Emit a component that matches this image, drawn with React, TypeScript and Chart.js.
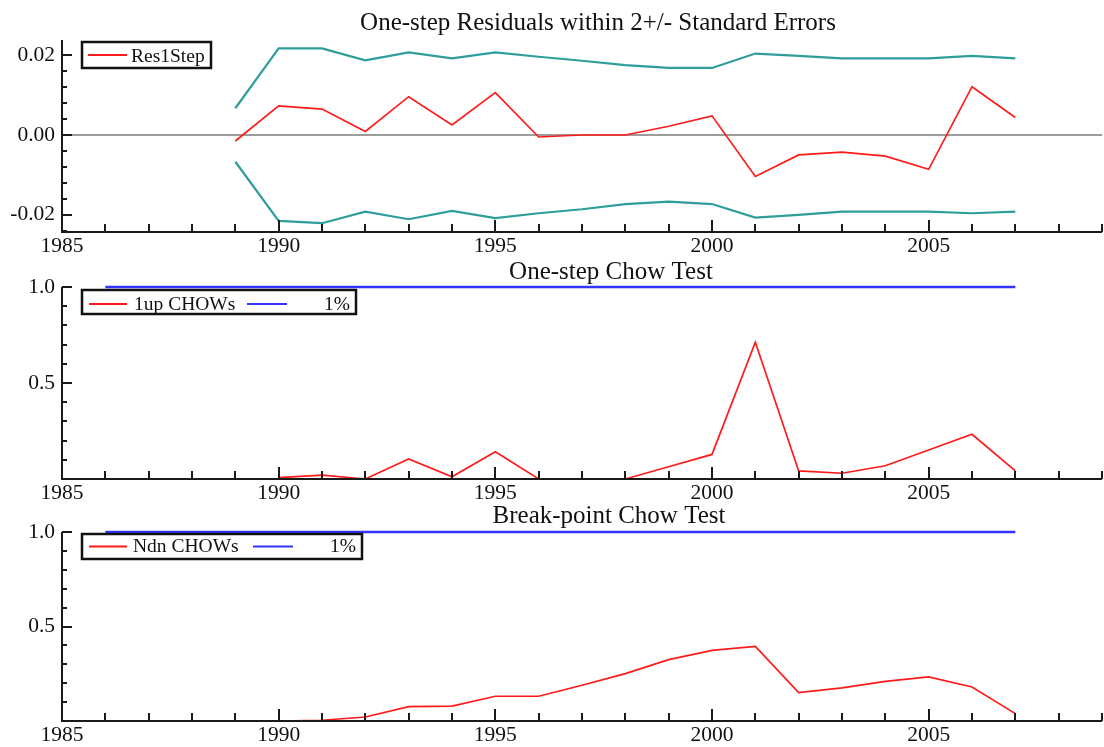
import React, { useEffect, useRef } from 'react';
import { Chart, registerables } from 'chart.js';

Chart.register(...registerables);

// ---------- data ----------
const resYears = [1989, 1990, 1991, 1992, 1993, 1994, 1995, 1996, 1997, 1998, 1999, 2000, 2001, 2002, 2003, 2004, 2005, 2006, 2007];
const res1Step = [-0.0015, 0.0073, 0.0065, 0.0009, 0.0096, 0.0025, 0.0106, -0.0005, 0.0, 0.0, 0.0022, 0.0048, -0.0104, -0.005, -0.0043, -0.0053, -0.0086, 0.0121, 0.0044];
const upperSE = [0.0067, 0.0217, 0.0217, 0.0187, 0.0207, 0.0192, 0.0207, 0.0196, 0.0186, 0.0175, 0.0168, 0.0168, 0.0204, 0.0198, 0.0192, 0.0192, 0.0192, 0.0198, 0.0192];
const lowerSE = [-0.0067, -0.0215, -0.0221, -0.0192, -0.0211, -0.019, -0.0208, -0.0196, -0.0186, -0.0173, -0.0167, -0.0173, -0.0207, -0.02, -0.0192, -0.0192, -0.0192, -0.0196, -0.0192];

const chowYears = [1990, 1991, 1992, 1993, 1994, 1995, 1996, 1997, 1998, 1999, 2000, 2001, 2002, 2003, 2004, 2005, 2006, 2007];
const oneUpChow = [0.007, 0.02, 0.0, 0.104, 0.012, 0.142, 0.0, 0.0, 0.0, 0.064, 0.128, 0.712, 0.042, 0.03, 0.069, 0.151, 0.233, 0.042];
const ndnChow = [0.0, 0.004, 0.021, 0.076, 0.079, 0.131, 0.131, 0.189, 0.251, 0.325, 0.374, 0.395, 0.15, 0.175, 0.21, 0.233, 0.18, 0.039];

const criticalYears = [1986, 2007];
const critical1pct = [1.0, 1.0];

const xTickYears = [1985, 1990, 1995, 2000, 2005];
const resTicks = [-0.02, 0.0, 0.02];
const chowTicks = [0.5, 1.0];

// ---------- styling ----------
const FONT = "'Liberation Serif', 'Times New Roman', serif";
const RED = '#ff1a1a';
const TEAL = '#2e9e9a';
const BLUE = '#3434ff';
const AXIS = '#1a1a1a';
const W = 1104;
const H = 747;

const pts = (xs: number[], ys: number[]) => xs.map((x, i) => ({ x, y: ys[i] }));

const framePlugin = {
  id: 'frame',
  beforeDatasetsDraw(chart: any, _a: any, opts: any) {
    if (!opts.zeroLine) return;
    const { left, right } = chart.chartArea;
    const y = chart.scales.y.getPixelForValue(0);
    const ctx = chart.ctx;
    ctx.save();
    ctx.strokeStyle = '#9c9c9c';
    ctx.lineWidth = 2;
    ctx.beginPath();
    ctx.moveTo(left, y);
    ctx.lineTo(right, y);
    ctx.stroke();
    ctx.restore();
  },
  afterDatasetsDraw(chart: any, _a: any, opts: any) {
    const ctx = chart.ctx;
    const { left, right, top, bottom } = chart.chartArea;
    const xs = chart.scales.x;
    const ys = chart.scales.y;
    ctx.save();
    ctx.strokeStyle = AXIS;
    ctx.lineWidth = 2;
    ctx.beginPath();
    ctx.moveTo(left, top);
    ctx.lineTo(left, bottom);
    ctx.lineTo(right, bottom);
    ctx.stroke();
    ctx.lineWidth = 2;
    ctx.beginPath();
    for (let yr = xs.min; yr <= xs.max; yr++) {
      const px = Math.round(xs.getPixelForValue(yr));
      const len = yr % 5 === 0 ? 12 : 8;
      ctx.moveTo(px, bottom);
      ctx.lineTo(px, bottom - len);
    }
    const step = opts.yMinor;
    const i0 = Math.ceil(ys.min / step - 1e-6);
    const i1 = Math.floor(ys.max / step + 1e-6);
    for (let i = i0; i <= i1; i++) {
      const v = i * step;
      const py = Math.round(ys.getPixelForValue(v));
      const isMajor = opts.yMajor.some((m: number) => Math.abs(m - v) < step / 10);
      ctx.moveTo(left, py);
      ctx.lineTo(left + (isMajor ? 10 : 5), py);
    }
    ctx.stroke();
    ctx.restore();
  },
};

const boxLegendPlugin = {
  id: 'boxLegend',
  afterDraw(chart: any, _a: any, opts: any) {
    const ctx = chart.ctx;
    const [bx, by, bw, bh] = opts.box;
    ctx.save();
    ctx.fillStyle = '#ffffff';
    ctx.fillRect(bx, by, bw, bh);
    ctx.strokeStyle = '#111';
    ctx.lineWidth = 2.5;
    ctx.strokeRect(bx, by, bw, bh);
    ctx.font = `${opts.fontSize}px ${FONT}`;
    ctx.textBaseline = 'alphabetic';
    for (const it of opts.items) {
      const ds = chart.data.datasets[it.ds];
      ctx.strokeStyle = ds.borderColor;
      ctx.lineWidth = 2;
      ctx.beginPath();
      ctx.moveTo(it.line[0], it.lineY);
      ctx.lineTo(it.line[1], it.lineY);
      ctx.stroke();
      ctx.fillStyle = '#111';
      ctx.textAlign = it.align;
      ctx.fillText(ds.label, it.textX, opts.baseline);
    }
    ctx.restore();
  },
};

const panelTitlePlugin = {
  id: 'panelTitle',
  afterDraw(chart: any, _a: any, opts: any) {
    const ctx = chart.ctx;
    ctx.save();
    ctx.font = `${opts.size}px ${FONT}`;
    ctx.fillStyle = '#111';
    ctx.textAlign = 'center';
    ctx.textBaseline = 'alphabetic';
    ctx.fillText(opts.text, opts.x, opts.y);
    ctx.restore();
  },
};

function makeConfig(p: any) {
  return {
    type: 'line',
    data: { datasets: p.datasets },
    plugins: [framePlugin, boxLegendPlugin, panelTitlePlugin],
    options: {
      animation: false,
      responsive: false,
      devicePixelRatio: 1,
      events: [],
      layout: { padding: { left: 0, right: 2, top: p.top, bottom: H - p.bottom - 20 } },
      elements: { point: { radius: 0 }, line: { tension: 0 } },
      plugins: {
        legend: { display: false },
        title: { display: false },
        tooltip: { enabled: false },
        frame: { zeroLine: p.zeroLine, yMinor: p.yMinor, yMajor: p.yTicks },
        boxLegend: p.legend,
        panelTitle: p.title,
      },
      scales: {
        x: {
          type: 'linear',
          min: 1985,
          max: 2009,
          grid: { display: false, drawTicks: false },
          border: { display: false },
          afterBuildTicks: (s: any) => {
            s.ticks = xTickYears.map((v) => ({ value: v }));
          },
          afterFit: (s: any) => {
            s.height = 20;
          },
          ticks: {
            autoSkip: false,
            maxRotation: 0,
            padding: 1,
            color: '#111',
            font: { family: FONT, size: 21.5 },
            callback: (v: any) => String(v),
          },
        },
        y: {
          type: 'linear',
          min: p.yMin,
          max: p.yMax,
          grid: { display: false, drawTicks: false },
          border: { display: false },
          afterBuildTicks: (s: any) => {
            s.ticks = p.yTicks.map((v: number) => ({ value: v }));
          },
          afterFit: (s: any) => {
            s.width = 62;
          },
          ticks: {
            padding: 7,
            color: '#111',
            font: { family: FONT, size: 21.5 },
            callback: (v: any) => Number(v).toFixed(p.dec),
          },
        },
      },
    },
  };
}

export default function App() {
  const r1 = useRef<HTMLCanvasElement>(null);
  const r2 = useRef<HTMLCanvasElement>(null);
  const r3 = useRef<HTMLCanvasElement>(null);

  useEffect(() => {
    document.body.style.margin = '0';
    const line = (label: string, xs: number[], ys: number[], color: string, width: number) => ({
      label,
      data: pts(xs, ys),
      borderColor: color,
      borderWidth: width,
      pointRadius: 0,
      fill: false,
      clip: 6,
    });

    const c1 = new Chart(r1.current as any, makeConfig({
      top: 40,
      bottom: 232,
      yMin: -0.0243,
      yMax: 0.0238,
      yTicks: resTicks,
      yMinor: 0.004,
      dec: 2,
      zeroLine: true,
      datasets: [
        line('Res1Step', resYears, res1Step, RED, 1.7),
        line('+2SE', resYears, upperSE, TEAL, 2.2),
        line('-2SE', resYears, lowerSE, TEAL, 2.2),
      ],
      legend: {
        box: [82, 42, 129, 26],
        baseline: 61.5,
        fontSize: 19.5,
        items: [{ ds: 0, line: [88, 127], lineY: 55, textX: 131, align: 'left' }],
      },
      title: { text: 'One-step Residuals within 2+/- Standard Errors', x: 598, y: 30, size: 25 },
    }) as any);

    const c2 = new Chart(r2.current as any, makeConfig({
      top: 287,
      bottom: 479,
      yMin: 0,
      yMax: 1.0,
      yTicks: chowTicks,
      yMinor: 0.1,
      dec: 1,
      zeroLine: false,
      datasets: [
        line('1up CHOWs', chowYears, oneUpChow, RED, 1.7),
        line('1%', criticalYears, critical1pct, BLUE, 2.5),
      ],
      legend: {
        box: [82, 290, 274, 24],
        baseline: 309.5,
        fontSize: 19.5,
        items: [
          { ds: 0, line: [89, 127], lineY: 304, textX: 134, align: 'left' },
          { ds: 1, line: [247, 287], lineY: 304, textX: 350, align: 'right' },
        ],
      },
      title: { text: 'One-step Chow Test', x: 611, y: 279, size: 25 },
    }) as any);

    const c3 = new Chart(r3.current as any, makeConfig({
      top: 532,
      bottom: 721,
      yMin: 0,
      yMax: 1.0,
      yTicks: chowTicks,
      yMinor: 0.1,
      dec: 1,
      zeroLine: false,
      datasets: [
        line('Ndn CHOWs', chowYears, ndnChow, RED, 1.7),
        line('1%', criticalYears, critical1pct, BLUE, 2.5),
      ],
      legend: {
        box: [82, 534, 280, 25],
        baseline: 551.5,
        fontSize: 19.5,
        items: [
          { ds: 0, line: [89, 127], lineY: 546.5, textX: 133, align: 'left' },
          { ds: 1, line: [253, 293], lineY: 546.5, textX: 356, align: 'right' },
        ],
      },
      title: { text: 'Break-point Chow Test', x: 609, y: 523, size: 25 },
    }) as any);

    return () => {
      c1.destroy();
      c2.destroy();
      c3.destroy();
    };
  }, []);

  const cs: React.CSSProperties = { position: 'absolute', left: 0, top: 0 };
  return (
    <div style={{ position: 'relative', width: W, height: H, background: '#fff', overflow: 'hidden' }}>
      <canvas ref={r1} width={W} height={H} style={cs} />
      <canvas ref={r2} width={W} height={H} style={cs} />
      <canvas ref={r3} width={W} height={H} style={cs} />
    </div>
  );
}
